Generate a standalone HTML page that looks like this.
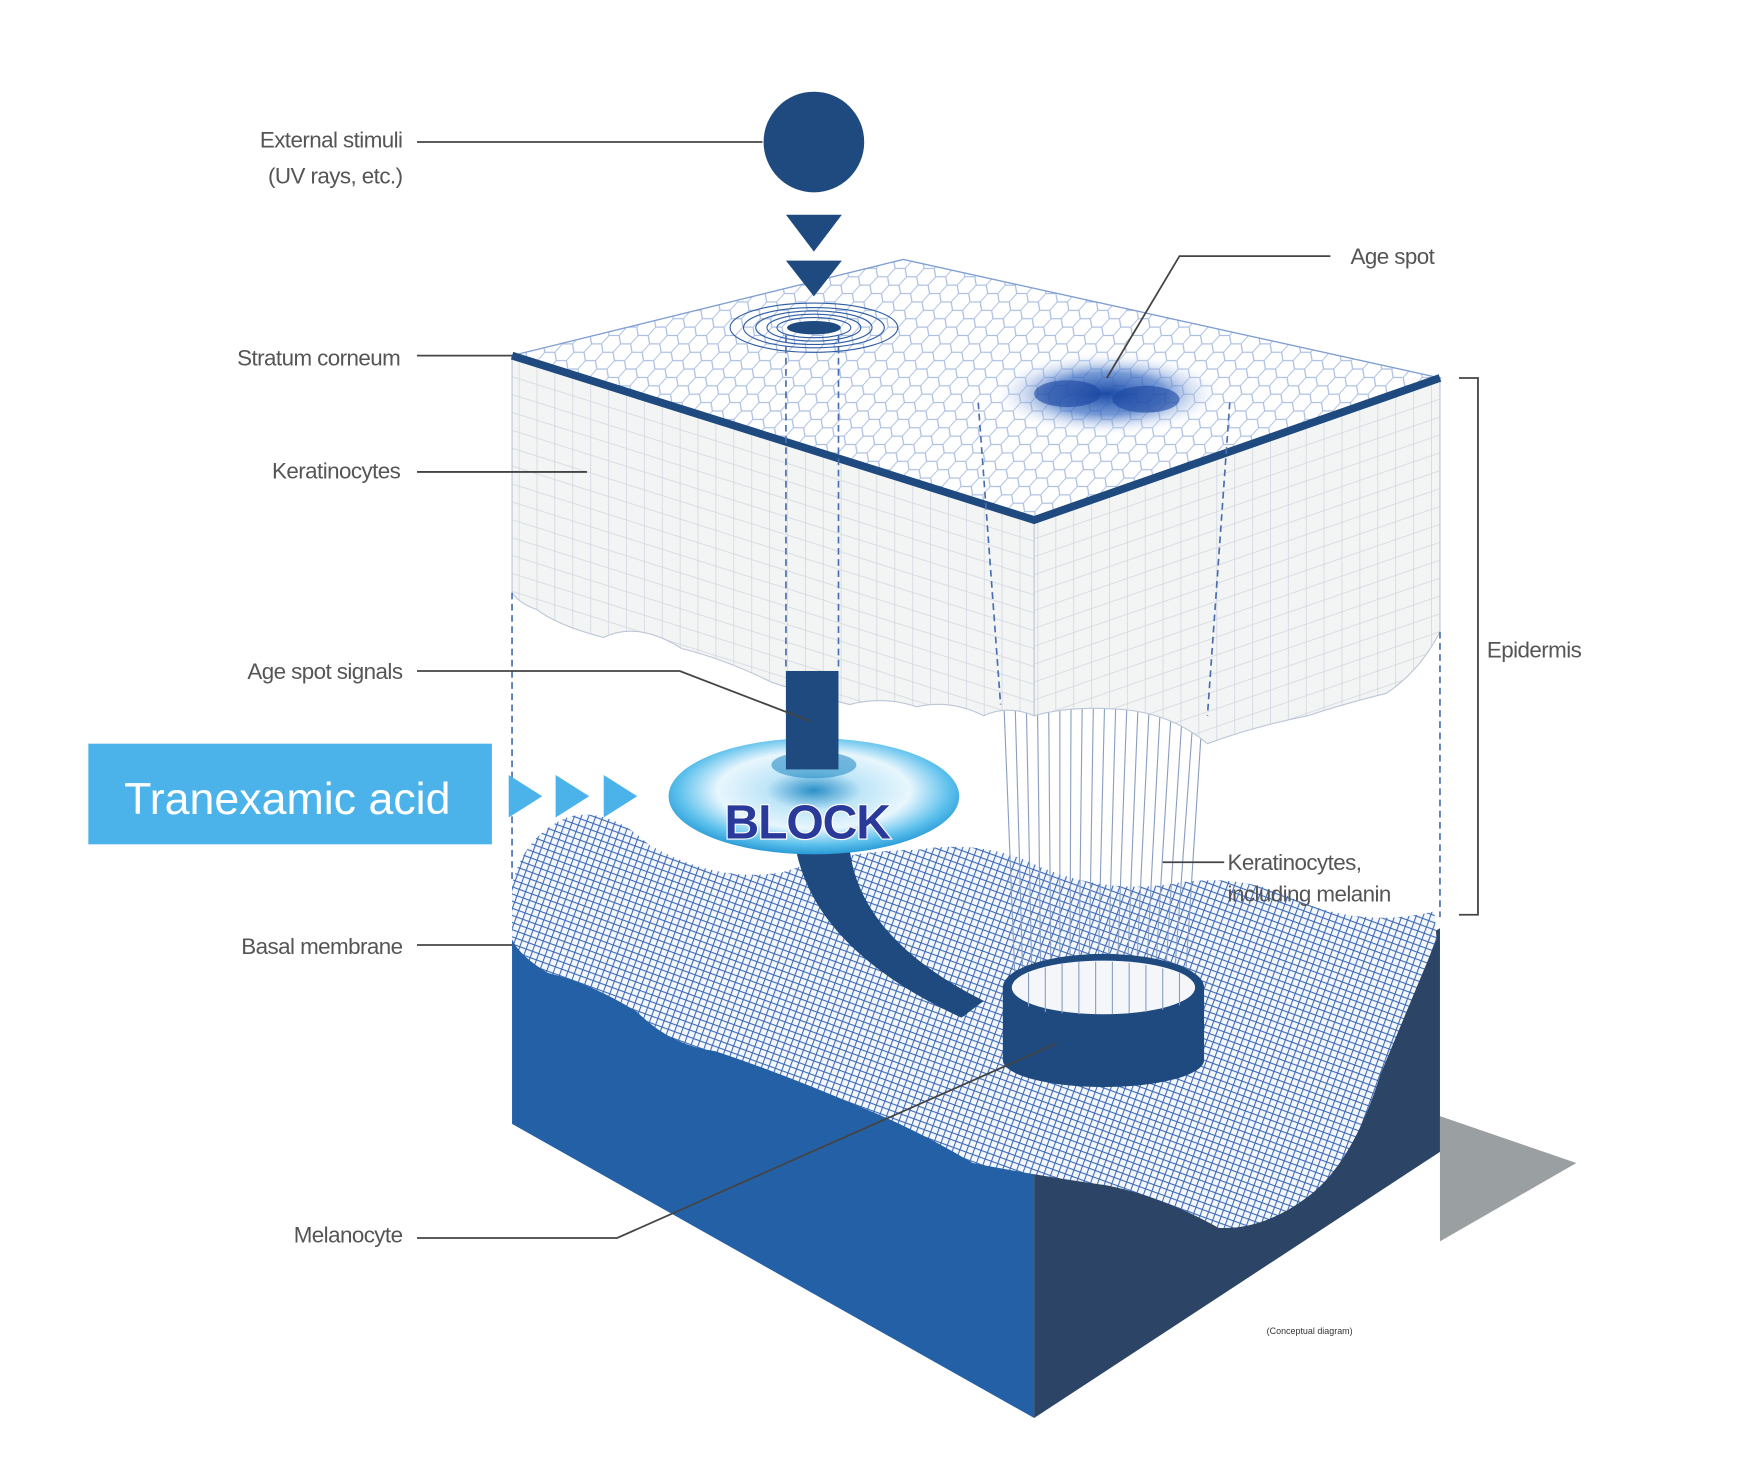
<!DOCTYPE html>
<html><head><meta charset="utf-8"><style>
html,body{margin:0;padding:0;background:#fff;width:1753px;height:1484px;overflow:hidden}
svg{display:block}
text{font-family:"Liberation Sans",sans-serif}
.lb{font-size:20px;fill:#555;letter-spacing:-0.5px}
.ld{stroke:#444;stroke-width:1.6;fill:none}
</style></head><body>
<svg width="1753" height="1484" viewBox="0 0 1568 1327" preserveAspectRatio="none">
<defs>
<pattern id="hex" width="26" height="15" patternUnits="userSpaceOnUse" patternTransform="skewX(-20)">
<path d="M0 7.5 L4 0 H13 L17 7.5 L13 15 H4 Z M17 7.5 H26" fill="none" stroke="#a9bde0" stroke-width="1"/>
</pattern>
<pattern id="gridL" width="16" height="16" patternUnits="userSpaceOnUse" patternTransform="skewY(17.5)">
<path d="M0 0 H16 M0 0 V16" fill="none" stroke="#cfd5df" stroke-width="1.3"/>
</pattern>
<pattern id="gridR" width="16" height="16" patternUnits="userSpaceOnUse" patternTransform="skewY(-19)">
<path d="M0 0 H16 M0 0 V16" fill="none" stroke="#cfd5df" stroke-width="1.3"/>
</pattern>
<pattern id="mesh" width="6" height="6" patternUnits="userSpaceOnUse" patternTransform="rotate(20)">
<rect width="6" height="6" fill="#f4f7fc"/>
<path d="M0 0 H6 M0 0 V6" fill="none" stroke="#3a68b6" stroke-width="1.9"/>
</pattern>
<radialGradient id="spot" cx="0.5" cy="0.5" r="0.5">
<stop offset="0" stop-color="#1a4aa8"/><stop offset="0.5" stop-color="#3d6fc4" stop-opacity="0.7"/><stop offset="1" stop-color="#fff" stop-opacity="0"/>
</radialGradient>
<radialGradient id="torus" cx="0.5" cy="0.45" r="0.55">
<stop offset="0" stop-color="#2a8fc8"/><stop offset="0.3" stop-color="#bfe6f8"/><stop offset="0.6" stop-color="#e8f6fd"/><stop offset="0.85" stop-color="#5cc0ec"/><stop offset="1" stop-color="#2a9ad6"/>
</radialGradient>
</defs>

<polygon points="1288,998 1410,1040 1288,1110" fill="#9aa0a2"/>
<polygon points="458,790 925,1040 925,1268 458,1005" fill="#2360a5"/>
<polygon points="925,1040 1288,830 1288,1030 925,1268" fill="#2c4566"/>
<path d="M458,790 Q470,745 510,730 Q545,722 580,755 Q640,790 700,780 Q760,760 820,760 Q880,750 930,775 Q990,800 1050,790 Q1110,780 1160,805 Q1220,830 1283,815 L1285,840 Q1260,900 1235,960 Q1210,1040 1170,1070 Q1130,1100 1090,1098 Q1040,1070 990,1060 Q920,1050 870,1040 Q820,1010 770,990 Q700,960 640,940 Q600,935 570,905 Q530,880 490,870 Q465,855 458,840 Z" fill="url(#mesh)"/>

<path d="M712,760 Q730,850 860,910 L880,895 Q770,840 760,760 Z" fill="#1f4a7f"/>

<g stroke="#8a9fc0" stroke-width="1">
<path d="M898,630 L908,880 M908,630 L915,880 M918,630 L923,880 M928,630 L931,880 M938,630 L940,880 M948,630 L948,880 M958,630 L957,880 M968,630 L965,880 M978,630 L974,880 M988,630 L982,880 M998,630 L991,880 M1008,630 L999,880 M1018,630 L1008,880 M1028,630 L1016,880 M1038,630 L1025,880 M1048,630 L1033,880 M1058,630 L1042,880 M1068,630 L1050,880 M1076,630 L1060,880"/>
</g>

<path d="M897,883 L897,948 A90,24 0 0 0 1077,948 L1077,883 Z" fill="#1f4a7f"/>
<ellipse cx="987" cy="883" rx="90" ry="30" fill="#1f4a7f"/>
<ellipse cx="987" cy="883" rx="82" ry="24" fill="#f4f6fa"/>
<g stroke="#8a9fc0" stroke-width="1"><path d="M920,870 V900 M935,865 V905 M950,862 V906 M965,860 V907 M980,860 V907 M995,860 V907 M1010,861 V906 M1025,863 V905 M1040,866 V903 M1055,870 V899"/></g>

<path d="M458,318 L925,465 L925,640 Q900,630 880,640 Q850,625 820,632 Q790,622 760,630 Q720,620 690,610 Q650,590 610,580 Q570,555 540,570 Q500,560 480,545 Q465,540 458,530 Z" fill="#f3f4f4"/>
<path d="M458,318 L925,465 L925,640 Q900,630 880,640 Q850,625 820,632 Q790,622 760,630 Q720,620 690,610 Q650,590 610,580 Q570,555 540,570 Q500,560 480,545 Q465,540 458,530 Z" fill="url(#gridL)" stroke="#bcc6d6" stroke-width="1"/>
<path d="M925,465 L1288,338 L1288,565 Q1270,600 1240,620 Q1200,630 1170,640 Q1120,650 1080,665 Q1050,640 1010,635 Q960,630 925,640 Z" fill="#f3f4f4"/>
<path d="M925,465 L1288,338 L1288,565 Q1270,600 1240,620 Q1200,630 1170,640 Q1120,650 1080,665 Q1050,640 1010,635 Q960,630 925,640 Z" fill="url(#gridR)" stroke="#bcc6d6" stroke-width="1"/>
<polygon points="458,318 808,232 1288,338 925,465" fill="#fff"/>
<polygon points="458,318 808,232 1288,338 925,465" fill="url(#hex)" stroke="#7f9ed2" stroke-width="1.2"/>
<polyline points="458,318 925,465 1288,338" fill="none" stroke="#1f4a7f" stroke-width="7"/>
<g fill="none" stroke="#2e5da3" stroke-width="1">
<ellipse cx="728" cy="293" rx="75" ry="22"/><ellipse cx="728" cy="293" rx="63" ry="18"/><ellipse cx="728" cy="293" rx="52" ry="15"/><ellipse cx="728" cy="293" rx="42" ry="12"/><ellipse cx="728" cy="293" rx="33" ry="9"/>
</g>
<ellipse cx="728" cy="293" rx="24" ry="6" fill="#1f4a7f"/>
<ellipse cx="990" cy="352" rx="105" ry="38" fill="url(#spot)"/>
<ellipse cx="955" cy="352" rx="30" ry="12" fill="#1a46a0" opacity="0.6"/>
<ellipse cx="1025" cy="357" rx="30" ry="12" fill="#1a46a0" opacity="0.6"/>

<g stroke="#4a6fb0" stroke-width="1.5" stroke-dasharray="6,4" fill="none">
<path d="M458,530 V790"/><path d="M703,300 V600"/><path d="M750,300 V600"/>
<path d="M875,360 L895,630"/><path d="M1100,360 L1080,640"/><path d="M1288,565 V820"/>
</g>

<rect x="703" y="600" width="47" height="95" fill="#1f4a7f"/>
<ellipse cx="728" cy="712" rx="130" ry="52" fill="url(#torus)"/>
<ellipse cx="728" cy="684" rx="38" ry="12" fill="#2a8fc8" opacity="0.6"/>
<rect x="703" y="600" width="47" height="88" fill="#1f4a7f"/>
<text x="722" y="750" text-anchor="middle" font-size="43" font-weight="bold" fill="#2a3a9a" stroke="#fff" stroke-width="2" paint-order="stroke" letter-spacing="-1">BLOCK</text>

<circle cx="728" cy="127" r="45" fill="#1f4a7f"/>
<polygon points="703,192 753,192 728,225" fill="#1f4a7f"/>
<polygon points="703,233 753,233 728,265" fill="#1f4a7f"/>

<rect x="79" y="665" width="361" height="90" fill="#4cb3ea"/>
<text x="257" y="728" text-anchor="middle" font-size="40" fill="#fff">Tranexamic acid</text>
<g fill="#4cb3ea"><polygon points="455,693 485,712 455,731"/><polygon points="497,693 527,712 497,731"/><polygon points="540,693 570,712 540,731"/></g>

<text class="lb" x="360" y="132" text-anchor="end">External stimuli</text>
<text class="lb" x="360" y="164" text-anchor="end">(UV rays, etc.)</text>
<path class="ld" d="M373,127 H682"/>
<text class="lb" x="358" y="327" text-anchor="end">Stratum corneum</text>
<path class="ld" d="M373,318 H458"/>
<text class="lb" x="358" y="428" text-anchor="end">Keratinocytes</text>
<path class="ld" d="M373,422 H525"/>
<text class="lb" x="360" y="607" text-anchor="end">Age spot signals</text>
<path class="ld" d="M373,600 H608 L725,645"/>
<text class="lb" x="360" y="853" text-anchor="end">Basal membrane</text>
<path class="ld" d="M373,845 H458"/>
<text class="lb" x="360" y="1111" text-anchor="end">Melanocyte</text>
<path class="ld" d="M373,1107 H552 L945,933"/>
<text class="lb" x="1208" y="236">Age spot</text>
<path class="ld" d="M1190,229 H1055 L990,338"/>
<text class="lb" x="1330" y="588">Epidermis</text>
<path class="ld" d="M1305,338 H1322 V818 H1305"/>
<text class="lb" x="1098" y="778" font-size="19">Keratinocytes,</text>
<text class="lb" x="1098" y="806" font-size="19">including melanin</text>
<path class="ld" d="M1040,771 H1095"/>
<text x="1133" y="1193" font-size="8" fill="#333">(Conceptual diagram)</text>
</svg>
</body></html>
